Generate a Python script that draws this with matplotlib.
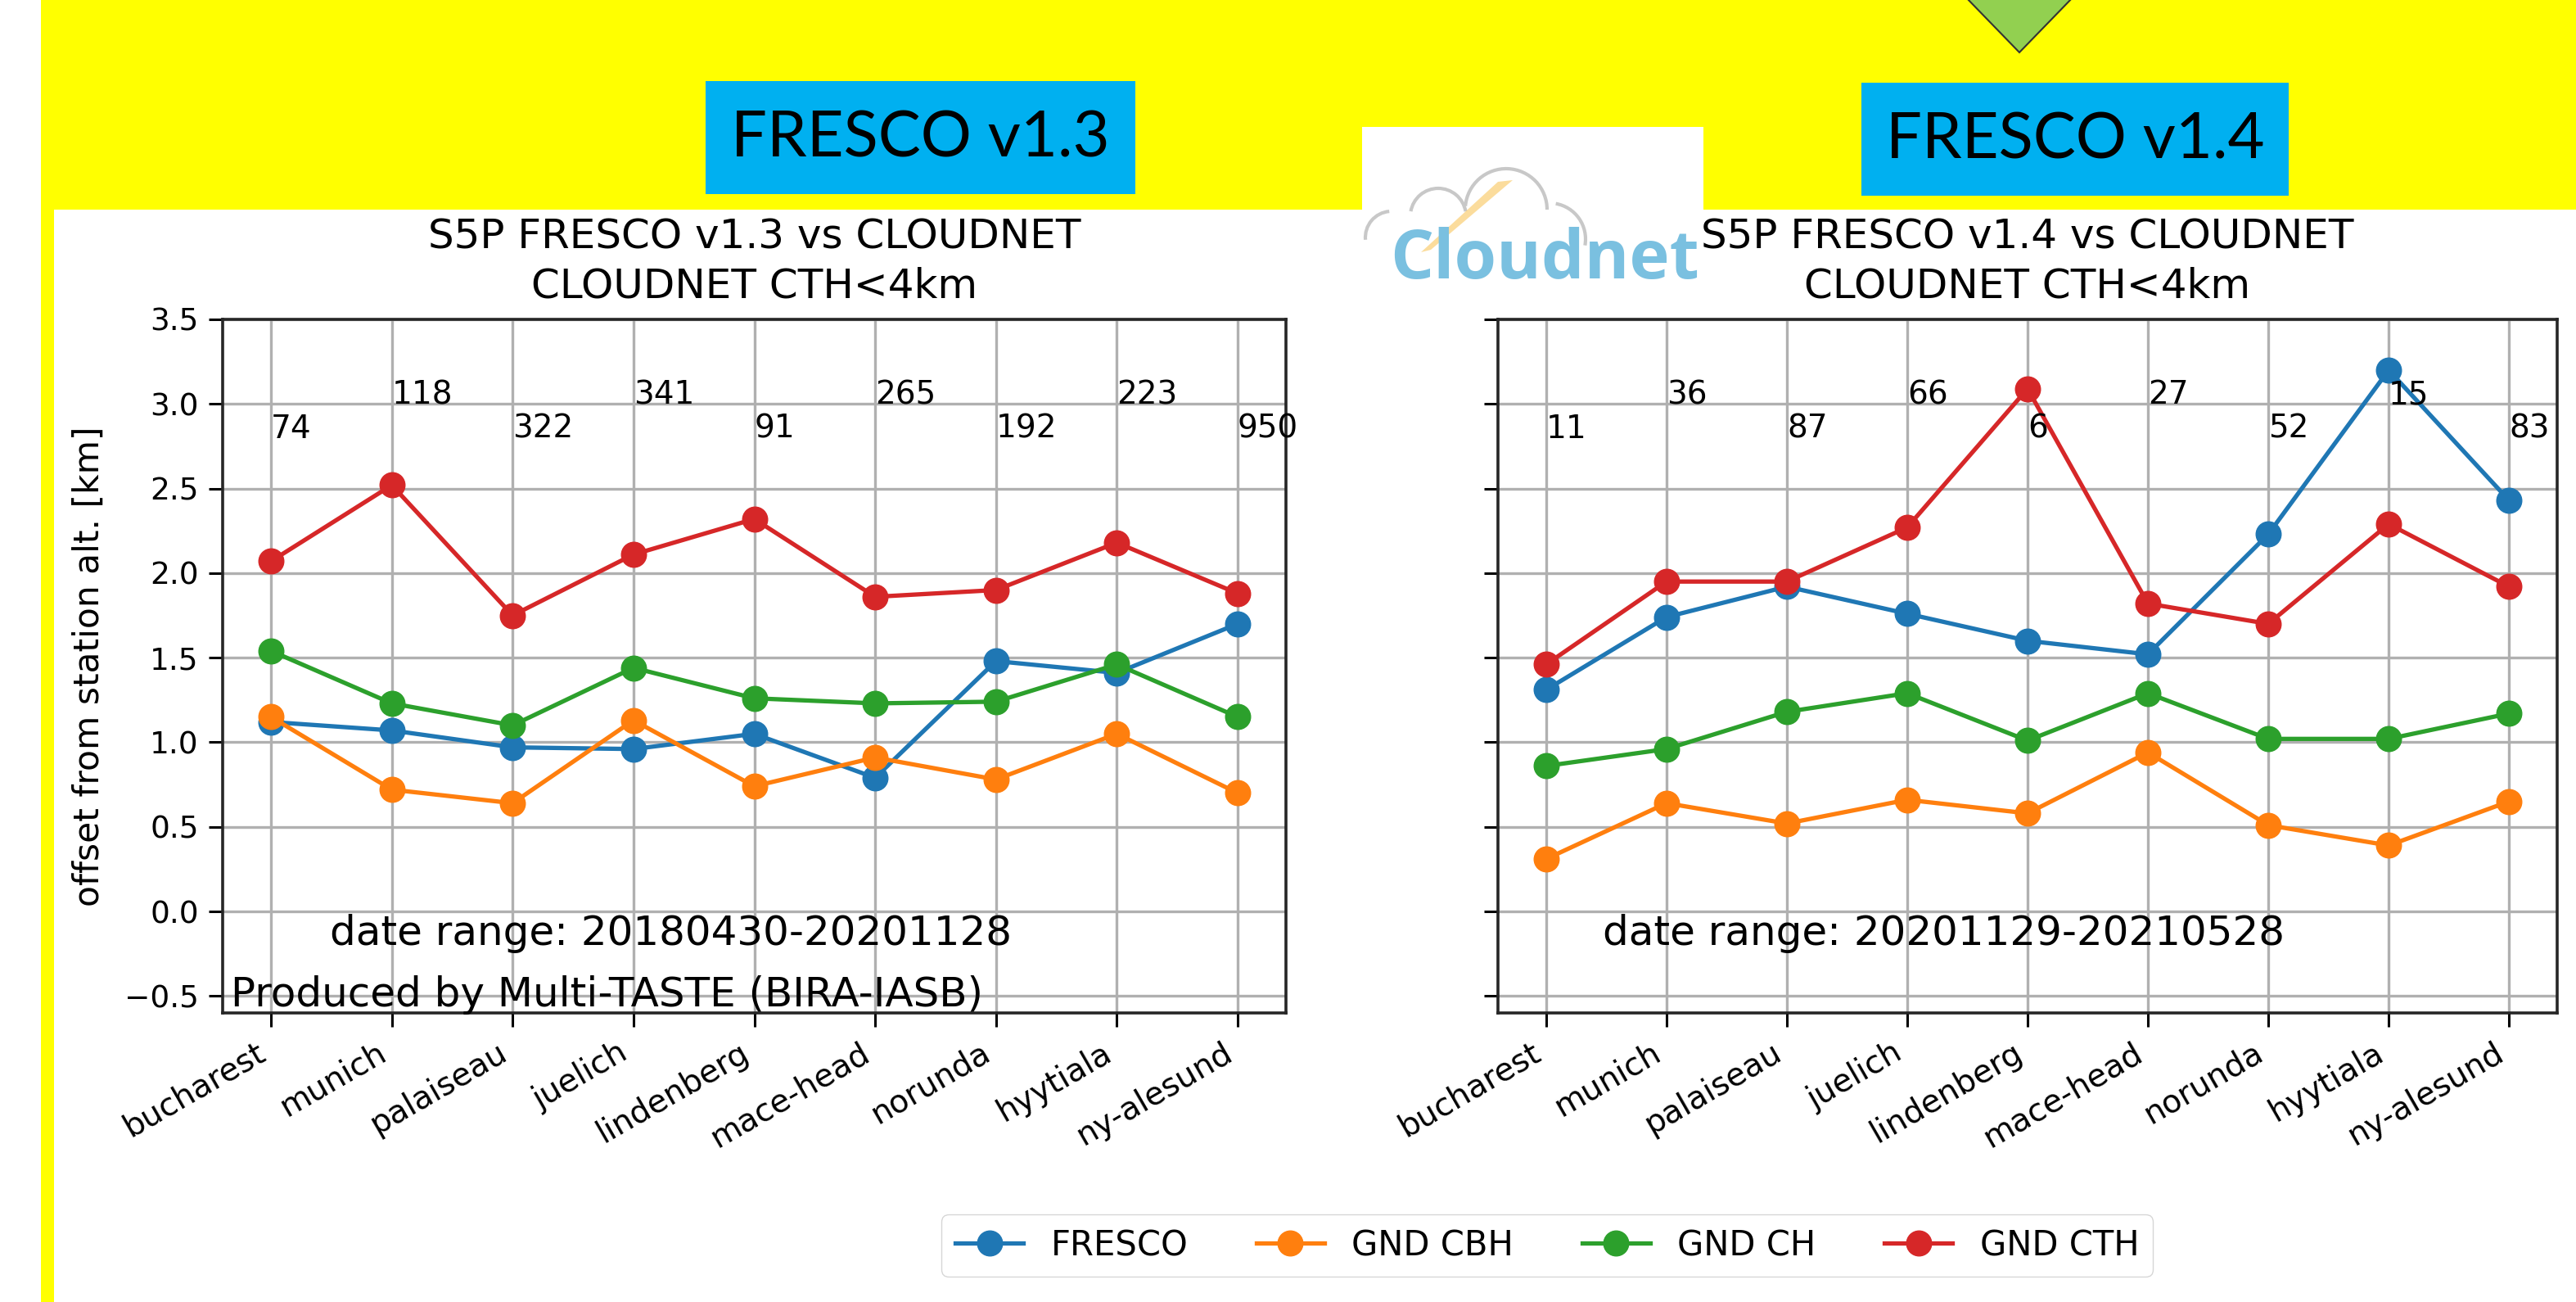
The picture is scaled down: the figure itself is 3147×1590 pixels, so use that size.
import numpy as np
import matplotlib
matplotlib.use("Agg")
import matplotlib.pyplot as plt
from matplotlib.patches import Rectangle, Polygon, Arc

stations = ["bucharest", "munich", "palaiseau", "juelich", "lindenberg",
            "mace-head", "norunda", "hyytiala", "ny-alesund"]

# FRESCO v1.3 (left panel)
fresco_13 = [1.12, 1.07, 0.97, 0.96, 1.05, 0.79, 1.48, 1.41, 1.70]
cbh_13 = [1.15, 0.72, 0.64, 1.13, 0.74, 0.91, 0.78, 1.05, 0.70]
ch_13 = [1.54, 1.23, 1.10, 1.44, 1.26, 1.23, 1.24, 1.46, 1.15]
cth_13 = [2.07, 2.52, 1.75, 2.11, 2.32, 1.86, 1.90, 2.18, 1.88]
counts_13 = [74, 118, 322, 341, 91, 265, 192, 223, 950]

# FRESCO v1.4 (right panel)
fresco_14 = [1.31, 1.74, 1.92, 1.76, 1.60, 1.52, 2.23, 3.20, 2.43]
cbh_14 = [0.31, 0.64, 0.52, 0.66, 0.58, 0.94, 0.51, 0.39, 0.65]
ch_14 = [0.86, 0.96, 1.18, 1.29, 1.01, 1.29, 1.02, 1.02, 1.17]
cth_14 = [1.46, 1.95, 1.95, 2.27, 3.09, 1.82, 1.70, 2.29, 1.92]
counts_14 = [11, 36, 87, 66, 6, 27, 52, 15, 83]

series_names = ["FRESCO", "GND CBH", "GND CH", "GND CTH"]
colors = ["#1f77b4", "#ff7f0e", "#2ca02c", "#d62728"]

W, H = 3147, 1590
fig = plt.figure(figsize=(W / 100, H / 100), dpi=100)
fig.patch.set_facecolor("white")

# slide background (yellow frame, blue labels)
bg = fig.add_axes([0, 0, 1, 1], zorder=0)
bg.set_xlim(0, W)
bg.set_ylim(H, 0)
bg.axis("off")
bg.add_patch(Rectangle((50, 0), W - 50, 256, color="#ffff00", lw=0))
bg.add_patch(Rectangle((50, 0), 16, H, color="#ffff00", lw=0))
bg.add_patch(Rectangle((862, 99), 525, 138, color="#00b0f0", lw=0))
bg.add_patch(Rectangle((2274, 101), 522, 138, color="#00b0f0", lw=0))
bg.text(1124, 170, "FRESCO v1.3", fontsize=56, family="Lato", ha="center", va="center")
bg.text(2535, 172, "FRESCO v1.4", fontsize=56, family="Lato", ha="center", va="center")
bg.add_patch(Polygon([(2400, -5), (2534, -5), (2467, 64)], closed=True,
                     facecolor="#92d050", edgecolor="#333333", lw=1.5))

x = np.arange(len(stations))
tick_fs = 27


def panel(rect, vals, title, counts, date_txt, date_x, show_ylabel, credit):
    ax = fig.add_axes(rect, zorder=1)
    for v, c, n in zip(vals, colors, series_names):
        ax.plot(x, v, "-o", color=c, lw=3.8, ms=22, label=n)
    for i, n in enumerate(counts):
        ax.text(i, 2.8 if i % 2 == 0 else 3.0, str(n), fontsize=28)
    ax.set_ylim(-0.6, 3.5)
    ax.set_xlim(-0.4, 8.4)
    ax.set_yticks(np.arange(-0.5, 3.51, 0.5))
    ax.set_xticks(x)
    ax.set_xticklabels(stations, rotation=30, ha="right", fontsize=28)
    ax.tick_params(axis="y", labelsize=tick_fs)
    ax.tick_params(length=12, width=2.2, pad=9)
    ax.grid(True, color="#b0b0b0", lw=2.4)
    for s in ax.spines.values():
        s.set_linewidth(2.6)
        s.set_color("#262626")
    ax.set_title(title, fontsize=36, pad=19, linespacing=1.32)
    ax.text(date_x, -0.2, date_txt, fontsize=36)
    if credit:
        ax.text(-0.33, -0.56, credit, fontsize=36)
    if show_ylabel:
        ax.set_ylabel("offset from station alt. [km]", fontsize=30.5, labelpad=16)
    else:
        ax.set_yticklabels([])
    return ax


vals_13 = [fresco_13, cbh_13, ch_13, cth_13]
vals_14 = [fresco_14, cbh_14, ch_14, cth_14]

ax1 = panel([272 / W, 1 - 1237 / H, (1571 - 272) / W, (1237 - 390) / H],
            vals_13, "S5P FRESCO v1.3 vs CLOUDNET\nCLOUDNET CTH<4km", counts_13,
            "date range: 20180430-20201128", 0.49, True,
            "Produced by Multi-TASTE (BIRA-IASB)")
ax2 = panel([1830 / W, 1 - 1237 / H, (3124 - 1830) / W, (1237 - 390) / H],
            vals_14, "S5P FRESCO v1.4 vs CLOUDNET\nCLOUDNET CTH<4km", counts_14,
            "date range: 20201129-20210528", 0.47, False, None)

handles, labels = ax1.get_legend_handles_labels()
fig.legend(handles, labels, loc="center", bbox_to_anchor=(1890 / W, 1 - 1521 / H),
           ncol=4, fontsize=30, frameon=True, edgecolor="#cccccc")

# Cloudnet logo on top
fg = fig.add_axes([0, 0, 1, 1], zorder=5)
fg.set_xlim(0, W)
fg.set_ylim(H, 0)
fg.axis("off")
fg.patch.set_alpha(0)
fg.add_patch(Rectangle((1664, 155), 417, 210, color="white", lw=0))
for cx, cy, r, a0, a1 in [(1700, 290, 32, 95, 185), (1757, 264, 34, 10, 170),
                          (1840, 256, 50, 0, 175), (1893, 292, 44, -10, 80)]:
    fg.add_patch(Arc((cx, cy), 2 * r, 2 * r, theta1=-a1, theta2=-a0,
                     color="#c8c8c8", lw=3))
fg.add_patch(Polygon([(1736, 308), (1748, 305), (1848, 220), (1830, 222)], closed=True,
                     facecolor="#f9c65b", edgecolor="none", alpha=0.6))
fg.text(1698, 340, "Cloudnet", fontsize=60, family="Open Sans", fontweight="bold",
        color="#7ac0e0", ha="left", va="baseline")

fig.savefig("out.png", dpi=100, facecolor="white")
